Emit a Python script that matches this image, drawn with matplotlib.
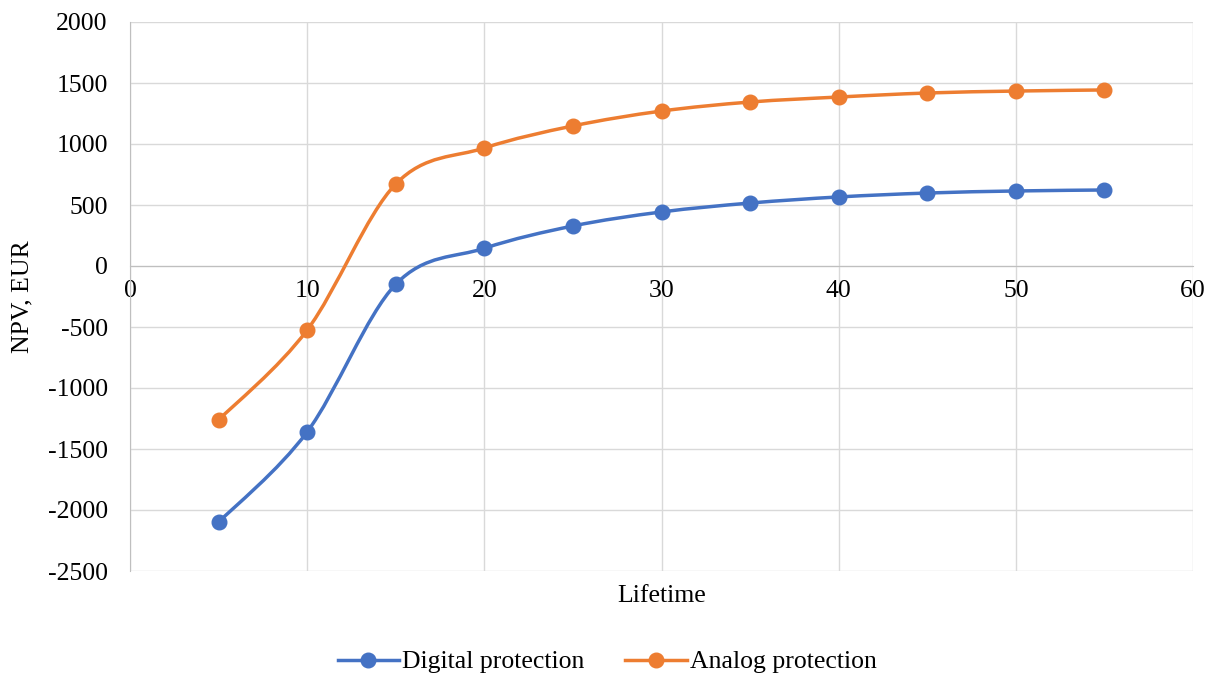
import numpy as np
import matplotlib.pyplot as plt
from matplotlib.path import Path
from matplotlib.patches import PathPatch
from matplotlib.lines import Line2D

plt.rcParams['font.family'] = ['Liberation Serif', 'DejaVu Serif']
plt.rcParams['axes.unicode_minus'] = False

lifetime = [5, 10, 15, 20, 25, 30, 35, 40, 45, 50, 55]
digital = [-2100, -1360, -150, 145, 328, 443, 516, 566, 598, 615, 623]
analog = [-1262, -525, 672, 967, 1148, 1270, 1344, 1385, 1418, 1434, 1443]

series = [("Digital protection", digital, "#4472C4"),
          ("Analog protection", analog, "#ED7D31")]

FS = 18.5


def smooth_path(x, y):
    # cubic Bezier segments through the points (Catmull-Rom style tangents)
    pts = np.column_stack([x, y]).astype(float)
    n = len(pts)
    verts = [pts[0]]
    codes = [Path.MOVETO]
    for i in range(n - 1):
        p0 = pts[max(i - 1, 0)]
        p1 = pts[i]
        p2 = pts[i + 1]
        p3 = pts[min(i + 2, n - 1)]
        c1 = p1 + (p2 - p0) / 6
        c2 = p2 - (p3 - p1) / 6
        verts += [c1, c2, p2]
        codes += [Path.CURVE4] * 3
    return Path(verts, codes)


fig = plt.figure(figsize=(12.24, 6.8), dpi=100)
ax = fig.add_axes([130 / 1224, 109 / 680, 1063 / 1224, 549 / 680])

handles = []
for name, vals, col in series:
    ax.add_patch(PathPatch(smooth_path(lifetime, vals), fill=False,
                           edgecolor=col, lw=2.5, zorder=3))
    ax.plot(lifetime, vals, 'o', color=col, ms=10.5, zorder=4)
    handles.append(Line2D([], [], color=col, lw=2.5, marker='o', ms=10.5))

ax.set_xlim(0, 60)
ax.set_ylim(-2500, 2000)
ax.set_xticks(range(0, 61, 10))
ax.set_yticks(range(-2500, 2001, 500))
ax.grid(True, color='#d9d9d9', lw=1)
ax.set_axisbelow(True)

for s in ['top', 'right']:
    ax.spines[s].set_visible(False)
ax.spines['bottom'].set_position(('data', 0))
ax.spines['bottom'].set_color('#bfbfbf')
ax.spines['left'].set_color('#bfbfbf')
ax.tick_params(length=0, labelsize=FS, colors='black')
ax.tick_params(axis='x', pad=10)
ax.tick_params(axis='y', pad=16)

ax.set_ylabel("NPV, EUR", fontsize=FS, labelpad=10)
ax.text(0.5, -0.025, "Lifetime", transform=ax.transAxes, ha='center',
        va='top', fontsize=FS)

fig.legend(handles, [s[0] for s in series], loc='center',
           bbox_to_anchor=(607 / 1224, 1 - 662 / 680), ncol=2, frameon=False,
           fontsize=FS, handlelength=2.4, columnspacing=1.6, handletextpad=0.1)

fig.savefig("out.png", dpi=100)
